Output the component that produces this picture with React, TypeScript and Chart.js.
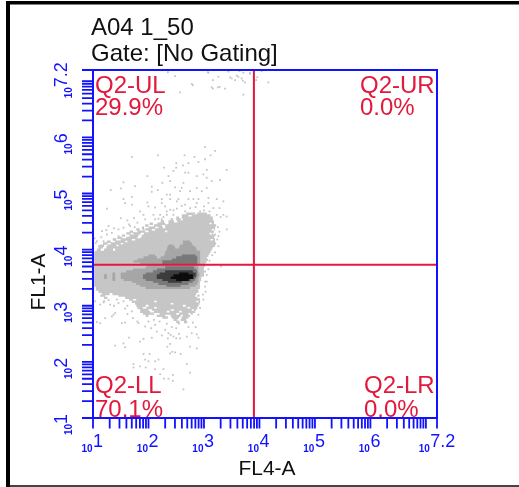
import React, { useEffect, useRef } from "react";
import { Chart, registerables } from "chart.js";

Chart.register(...registerables);

const plotTitle = "A04 1_50";
const gateTitle = "Gate: [No Gating]";
const xAxisTitle = "FL4-A";
const yAxisTitle = "FL1-A";
const quadrantNames = ["Q2-UL", "Q2-UR", "Q2-LL", "Q2-LR"];
const quadrantValues = ["29.9%", "0.0%", "70.1%", "0.0%"];
const tickDecades = [1, 2, 3, 4, 5, 6];
const tickMultipliers = [1, 2, 3, 4, 5, 6, 7, 8, 9];
const extraTickDecades = [7, 7.2];
const tickExponents = ["1", "2", "3", "4", "5", "6", "7.2"];
const xLabelDecades = [1, 2, 3, 4, 5, 6, 7.08];
const yLabelDecades = [1, 2, 3, 4, 5, 6, 7.0];
const gateX = 3.9;
const gateY = 3.73;
const axisMaxDecade = 7.2;

// Every value is a log10 decade. Rows are [y, x0, x1, x0, x1, ...].
const lightRows: number[][] = [
  [4.64, 2.68, 2.8, 2.88, 3.05], [4.61, 2.6, 2.72, 2.78, 3.12], [4.57, 2.5, 2.55, 2.6, 3.16], [4.54, 2.4, 2.44, 2.5, 2.58, 2.62, 3.16],
  [4.5, 2.22, 2.28, 2.36, 2.46, 2.52, 3.18], [4.46, 2.02, 2.08, 2.16, 2.3, 2.36, 3.1, 3.14, 3.18], [4.43, 1.94, 2.0, 2.1, 2.24, 2.3, 3.22],
  [4.39, 1.88, 1.92, 2.0, 2.12, 2.18, 2.26, 2.3, 3.2], [4.36, 1.78, 1.84, 1.94, 2.06, 2.12, 3.14, 3.18, 3.2],
  [4.32, 1.66, 1.72, 1.8, 1.94, 2.0, 2.3, 2.34, 3.18], [4.29, 1.6, 1.68, 1.74, 1.86, 1.92, 3.1, 3.14, 3.16],
  [4.25, 1.52, 1.58, 1.66, 1.82, 1.88, 3.2], [4.21, 1.44, 1.52, 1.6, 1.8, 1.86, 3.18], [4.18, 1.36, 1.42, 1.5, 1.7, 1.76, 3.12, 3.16, 3.2],
  [4.14, 1.25, 1.32, 1.4, 1.58, 1.62, 3.2], [4.11, 1.18, 1.26, 1.32, 1.5, 1.55, 3.22], [4.07, 1.12, 1.2, 1.26, 1.42, 1.46, 3.2],
  [4.04, 1.1, 1.18, 1.24, 3.16], [4.0, 1.07, 1.14, 1.2, 1.36, 1.4, 3.14], [3.96, 1.03, 3.12],
  [3.93, 1.02, 3.1], [3.89, 1.02, 3.08], [3.86, 1.02, 3.05], [3.82, 1.02, 3.07], [3.79, 1.02, 3.05],
  [3.75, 1.02, 3.03], [3.71, 1.02, 3.02], [3.68, 1.02, 3.0], [3.64, 1.02, 3.0], [3.61, 1.02, 3.0],
  [3.57, 1.02, 3.0], [3.54, 1.02, 3.0], [3.5, 1.02, 2.95], [3.46, 1.02, 2.95], [3.43, 1.02, 2.93],
  [3.39, 1.02, 2.93], [3.36, 1.02, 2.93], [3.32, 1.05, 2.93], [3.29, 1.05, 2.9], [3.25, 1.1, 2.9],
  [3.21, 1.16, 1.3, 1.35, 2.86], [3.18, 1.13, 1.22, 1.46, 2.84, 2.88, 2.92], [3.14, 1.2, 1.26, 1.58, 2.88], [3.11, 1.65, 1.72, 1.78, 2.93],
  [3.07, 1.7, 2.1, 2.15, 2.86, 2.9, 2.93], [3.04, 1.76, 2.4, 2.45, 2.92], [3.0, 1.78, 1.95, 2.0, 2.62, 2.67, 2.9],
  [2.96, 1.8, 1.9, 1.96, 2.1, 2.15, 2.7, 2.75, 2.88], [2.93, 1.85, 2.0, 2.06, 2.4, 2.46, 2.78, 2.82, 2.86],
  [2.89, 1.85, 2.03, 2.1, 2.33, 2.38, 2.55, 2.6, 2.84], [2.86, 1.9, 2.1, 2.2, 2.5, 2.55, 2.72, 2.76, 2.8],
  [2.82, 1.95, 2.0, 2.15, 2.3, 2.4, 2.58, 2.62, 2.75], [2.79, 2.25, 2.35, 2.42, 2.55, 2.6, 2.72], [2.75, 2.45, 2.52, 2.58, 2.68], [2.71, 2.5, 2.56, 2.64, 2.7],
];

const midRows: number[][] = [
  [4.14, 2.62, 2.75], [4.11, 2.62, 2.78], [4.07, 2.36, 2.45, 2.57, 2.8], [4.04, 2.34, 2.48, 2.55, 2.85], [4.0, 2.33, 2.87],
  [3.96, 2.3, 2.93], [3.93, 2.3, 2.93], [3.89, 2.0, 2.12, 2.28, 2.93], [3.86, 1.91, 2.15, 2.22, 2.93], [3.82, 1.8, 2.93], [3.79, 1.73, 2.93],
  [3.75, 1.85, 2.93], [3.71, 2.0, 2.87], [3.68, 1.95, 2.9], [3.64, 1.72, 2.9], [3.61, 1.6, 2.9],
  [3.57, 1.35, 1.4, 1.5, 2.92], [3.54, 1.2, 1.25, 1.35, 1.4, 1.5, 2.92], [3.5, 1.2, 1.25, 1.35, 1.4, 1.5, 2.9],
  [3.46, 1.35, 1.4, 1.55, 2.9], [3.43, 1.7, 2.9], [3.39, 1.78, 2.88], [3.36, 1.85, 2.85], [3.32, 1.95, 2.75],
];

const darkerRows: number[][] = [
  [3.89, 2.6, 2.85], [3.86, 2.5, 2.88], [3.82, 2.42, 2.88], [3.79, 2.25, 2.88], [3.75, 2.25, 2.88],
  [3.68, 2.3, 2.82], [3.64, 2.15, 2.86], [3.61, 2.08, 2.88], [3.57, 1.95, 2.88], [3.54, 1.9, 2.88],
  [3.5, 1.9, 2.86], [3.46, 1.95, 2.84], [3.43, 2.08, 2.8], [3.39, 2.18, 2.72], [3.36, 2.32, 2.58],
];

const darkRows: number[][] = [
  [3.61, 2.3, 2.8], [3.57, 2.2, 2.85], [3.54, 2.15, 2.85], [3.5, 2.15, 2.82], [3.46, 2.25, 2.75], [3.43, 2.35, 2.6],
];

const coreRows: number[][] = [
  [3.57, 2.55, 2.72], [3.54, 2.45, 2.8], [3.5, 2.4, 2.8], [3.46, 2.5, 2.72],
];

// Isolated events: [x, y] in decades.
const sparseEvents: number[][] = [
  [3.02, 5.83], [3.2, 5.76], [3.12, 5.68], [3.02, 5.61], [2.65, 5.68], [2.17, 5.68], [1.7, 5.65], [2.83, 5.65], [2.9, 5.56], [2.72, 5.54],
  [2.62, 5.5], [2.5, 5.54], [2.28, 5.46], [2.5, 5.46], [2.45, 5.4], [2.66, 5.37], [2.72, 5.37], [3.41, 5.42], [3.05, 5.42], [2.99, 5.34],
  [2.87, 5.31], [2.36, 5.31], [1.98, 5.31], [3.05, 5.28], [2.25, 5.19], [2.39, 5.22], [1.55, 5.2], [2.63, 5.19], [3.14, 5.22], [3.29, 5.24],
  [1.76, 5.13], [2.06, 5.12], [2.48, 5.11], [2.6, 5.1], [2.87, 5.1], [3.05, 5.1], [1.32, 5.06], [1.5, 5.09], [2.06, 5.03], [2.17, 5.06],
  [2.57, 5.04], [2.75, 5.04], [2.96, 5.04], [2.33, 4.98], [2.39, 4.98], [1.55, 4.9], [1.7, 4.94], [2.24, 4.9], [2.39, 4.9], [2.54, 4.9],
  [2.72, 4.9], [2.81, 4.9], [2.9, 4.9], [3.08, 4.92], [3.23, 4.9], [1.98, 4.84], [1.58, 4.83], [1.7, 4.8], [2.24, 4.83], [2.51, 4.86],
  [2.66, 4.8], [2.87, 4.83], [3.08, 4.83], [3.35, 4.86], [1.25, 4.73], [1.85, 4.68], [2.39, 4.71], [2.51, 4.73], [2.75, 4.74], [2.93, 4.68],
  [3.17, 4.74], [2.33, 4.68], [1.91, 4.62], [2.09, 4.62], [2.21, 4.62], [2.33, 4.62], [2.45, 4.62], [1.5, 4.56], [1.74, 4.56], [1.94, 4.54],
  [2.12, 4.54], [2.24, 4.54], [3.35, 4.62], [3.23, 4.62], [3.41, 4.59], [3.41, 4.36], [3.31, 3.7], [3.05, 3.43],
  [2.0, 4.77], [2.12, 4.75], [2.3, 4.77], [2.6, 4.78], [2.85, 4.76], [3.0, 4.77], [3.28, 4.74], [2.45, 4.7], [2.66, 4.68], [2.82, 4.65],
  [3.0, 4.7], [3.1, 4.68], [3.3, 4.58], [2.18, 4.55], [2.27, 4.58], [1.65, 4.45], [1.8, 4.48], [1.75, 4.4], [1.38, 4.38], [1.28, 4.42],
  [1.15, 4.22], [1.24, 4.35], [1.62, 4.52], [1.03, 4.2], [1.05, 4.12], [3.25, 4.4], [3.28, 4.32], [3.24, 4.18], [3.26, 4.06], [3.2, 3.95],
  [3.15, 3.9], [3.1, 3.8], [3.08, 3.65], [3.05, 3.55], [3.03, 3.25], [2.98, 3.2],
  [3.08, 7.15], [3.23, 7.2], [3.35, 7.2], [3.44, 7.17], [3.64, 7.18], [3.71, 7.15], [3.83, 7.15], [4.04, 7.18], [3.26, 7.08], [3.16, 7.02],
  [3.5, 7.05], [3.56, 7.02], [3.62, 7.08], [3.68, 7.05], [3.7, 7.01], [3.83, 7.13], [3.96, 7.07], [3.94, 7.02], [3.74, 6.98], [4.16, 6.98],
  [2.8, 6.93], [3.16, 6.87], [3.28, 6.9], [3.38, 6.87], [3.71, 6.76], [2.57, 6.8], [2.35, 7.16], [2.48, 7.09], [2.78, 6.95], [3.14, 6.89],
  [3.25, 6.89], [3.07, 7.16], [3.47, 7.07], [3.59, 7.1],
  [1.22, 2.78], [1.13, 2.69], [1.07, 2.71], [1.34, 2.81], [1.37, 2.84], [1.4, 2.87], [1.52, 2.69], [1.58, 2.7], [1.65, 2.43], [1.4, 2.29],
  [1.55, 2.33], [1.58, 2.26], [1.85, 2.36], [1.91, 2.41], [2.06, 2.43], [2.15, 2.54], [2.24, 2.47], [2.36, 2.51], [2.3, 2.57], [2.12, 2.66],
  [1.82, 2.69], [1.94, 2.63], [2.39, 2.32], [2.34, 2.27], [2.43, 2.18], [2.39, 2.15], [2.48, 2.17], [1.91, 2.14], [2.02, 2.14], [2.58, 2.14],
  [2.75, 2.27], [2.87, 2.24], [2.9, 2.43], [2.78, 2.51], [2.87, 2.49], [2.69, 2.45], [2.57, 2.42], [1.94, 2.04], [2.12, 2.01], [2.18, 2.04],
  [2.0, 2.01], [1.73, 1.96], [1.73, 1.9], [1.85, 1.92], [1.95, 1.9], [2.12, 1.87], [2.27, 1.87], [2.69, 1.96], [2.75, 1.81], [2.21, 1.78],
  [2.28, 1.7], [2.36, 1.7], [2.44, 1.77], [2.44, 1.66], [2.63, 1.51], [1.13, 3.02], [1.19, 3.06], [1.04, 3.08], [1.31, 3.02], [1.43, 3.11],
  [1.58, 2.95], [1.55, 3.08], [2.99, 3.11], [2.9, 2.84], [2.93, 2.96], [1.07, 4.15], [1.16, 4.33], [1.25, 4.27], [1.34, 4.3], [1.46, 4.36],
  [1.46, 4.24], [1.55, 4.39], [1.67, 4.42], [1.37, 4.18], [1.19, 4.15], [1.55, 4.09], [1.11, 4.06], [1.73, 4.3], [1.91, 4.36], [3.05, 4.36],
  [3.2, 4.27], [3.26, 4.24], [3.02, 3.61], [3.02, 3.43], [3.02, 3.34],
  [1.2, 3.08], [1.28, 3.1], [1.38, 3.0], [1.46, 3.05], [1.62, 3.0], [1.7, 2.9], [1.62, 2.85], [1.72, 2.78], [1.8, 2.72], [2.0, 2.72],
  [2.1, 2.75], [2.2, 2.72], [2.05, 2.6], [2.33, 2.68], [2.42, 2.62], [2.5, 2.6], [2.55, 2.68], [2.72, 2.62], [2.8, 2.7], [2.85, 2.62],
  [2.45, 2.45], [2.5, 2.42], [2.55, 2.5], [2.4, 2.48], [2.35, 2.42],
];

const BLUE = "#1212ff";
const RED = "#e2183c";
const pow = (d: number) => Math.pow(10, d);

function rowsToSegments(rows: number[][]) {
  const pts: { x: number; y: number }[] = [];
  for (const row of rows) {
    for (let i = 1; i + 1 < row.length; i += 2) {
      pts.push({ x: pow(row[i]), y: pow(row[0]) });
      pts.push({ x: pow(row[i + 1]), y: pow(row[0]) });
      pts.push({ x: NaN, y: NaN });
    }
  }
  return pts;
}

function band(rows: number[][], color: string, order: number) {
  return {
    data: rowsToSegments(rows),
    showLine: true,
    borderColor: color,
    borderWidth: 2.4,
    borderCapStyle: "butt",
    pointRadius: 0,
    order,
  };
}

const framePlugin = {
  id: "frame",
  beforeDraw(chart: any) {
    const c = chart.ctx;
    c.save();
    c.fillStyle = "#ffffff";
    c.fillRect(0, 0, chart.width, chart.height);
    c.fillStyle = "#000000";
    c.fillRect(6, 1, chart.width - 6, 3.5);
    c.fillRect(6, 1, 4, chart.height - 1);
    c.fillStyle = "#444444";
    c.fillRect(10, 485, chart.width - 10, 2);
    c.restore();
  },
};

const annotationPlugin = {
  id: "flowAnnotations",
  afterDatasetsDraw(chart: any) {
    const c = chart.ctx;
    const xs = chart.scales.x;
    const ys = chart.scales.y;
    const a = chart.chartArea;
    c.save();
    c.strokeStyle = BLUE;
    c.lineWidth = 1.8;
    const xVals = [
      ...tickDecades.flatMap((d) => tickMultipliers.map((m) => m * pow(d))),
      ...extraTickDecades.map(pow),
    ];
    c.beginPath();
    for (const v of xVals) {
      const px = xs.getPixelForValue(v);
      c.moveTo(px, a.bottom);
      c.lineTo(px, a.bottom + 10.5);
      const py = ys.getPixelForValue(v);
      c.moveTo(a.left - 11, py);
      c.lineTo(a.left, py);
    }
    c.stroke();
    c.lineWidth = 2;
    c.strokeRect(a.left, a.top, a.right - a.left, a.bottom - a.top);

    c.fillStyle = BLUE;
    c.textBaseline = "alphabetic";
    tickExponents.forEach((exp, i) => {
      const px = xs.getPixelForValue(pow(xLabelDecades[i]));
      c.font = "bold 10px 'Liberation Sans'";
      c.textAlign = "right";
      c.fillText("10", px - 0.5, 452);
      c.font = "18px 'Liberation Sans'";
      c.textAlign = "left";
      c.fillText(exp, px, 447);

      const py = ys.getPixelForValue(pow(yLabelDecades[i]));
      c.save();
      c.translate(72, py + 6);
      c.rotate(-Math.PI / 2);
      c.font = "bold 10px 'Liberation Sans'";
      c.textAlign = "right";
      c.fillText("10", 0, 0);
      c.font = "18px 'Liberation Sans'";
      c.textAlign = "left";
      c.fillText(exp, 0, -5);
      c.restore();
    });

    c.fillStyle = RED;
    c.font = "24px 'Liberation Sans'";
    c.textAlign = "left";
    const labelX = [95, 360, 95, 364];
    const nameY = [93, 93, 393, 393];
    const valueY = [115, 115, 417, 417];
    quadrantNames.forEach((name, i) => {
      c.fillText(name, labelX[i], nameY[i]);
      c.fillText(quadrantValues[i], labelX[i], valueY[i]);
    });

    c.fillStyle = "#111111";
    c.fillText(plotTitle, 91, 35);
    c.fillText(gateTitle, 91, 61);
    c.font = "21px 'Liberation Sans'";
    c.textAlign = "center";
    c.fillText(xAxisTitle, 267, 475);
    c.save();
    c.translate(45, 282);
    c.rotate(-Math.PI / 2);
    c.fillText(yAxisTitle, 0, 0);
    c.restore();
    c.restore();
  },
};

export default function App() {
  const ref = useRef<HTMLCanvasElement | null>(null);
  useEffect(() => {
    if (!ref.current) return;
    const chart = new Chart(ref.current, {
      type: "scatter",
      data: {
        datasets: [
          {
            data: [{ x: pow(gateX), y: pow(1) }, { x: pow(gateX), y: pow(axisMaxDecade) }],
            showLine: true, borderColor: RED, borderWidth: 2, pointRadius: 0, order: 0,
          },
          {
            data: [{ x: pow(1), y: pow(gateY) }, { x: pow(axisMaxDecade), y: pow(gateY) }],
            showLine: true, borderColor: RED, borderWidth: 2, pointRadius: 0, order: 0,
          },
          band(coreRows, "#0c0c0c", 1),
          band(darkRows, "#3c3c3c", 2),
          band(darkerRows, "#787878", 3),
          band(midRows, "#a6a6a6", 4),
          band(lightRows, "#c6c6c6", 5),
          {
            data: sparseEvents.map(([x, y]) => ({ x: pow(x), y: pow(y) })),
            pointStyle: "rect", pointRadius: 1.25, pointBackgroundColor: "#c4c4c4", pointBorderWidth: 0, order: 6,
          },
        ] as any,
      },
      options: {
        animation: false,
        responsive: false,
        layout: { padding: { left: 93, right: 82, top: 70, bottom: 69 } },
        plugins: { legend: { display: false }, tooltip: { enabled: false }, title: { display: false } },
        scales: {
          x: { type: "logarithmic", display: false, min: pow(1), max: pow(axisMaxDecade) },
          y: { type: "logarithmic", display: false, min: pow(1), max: pow(axisMaxDecade) },
        },
      },
      plugins: [framePlugin, annotationPlugin],
    });
    return () => chart.destroy();
  }, []);
  return (
    <div style={{ position: "fixed", left: 0, top: 0, width: 519, height: 487 }}>
      <canvas ref={ref} width={519} height={487} style={{ display: "block" }} />
    </div>
  );
}
